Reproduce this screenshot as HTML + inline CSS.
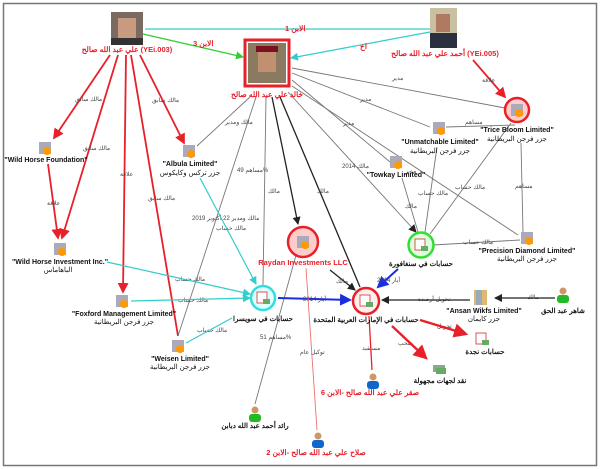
<!DOCTYPE html>
<html><head><meta charset="utf-8"><style>
html,body{margin:0;padding:0;background:#fff;}
svg{display:block;}
text{font-family:"Liberation Sans","Noto Sans CJK SC",sans-serif;}
.l{font-size:6px;fill:#444;}
.b{font-size:7px;font-weight:bold;fill:#111;}
.r{font-size:7.5px;font-weight:bold;fill:#e8202a;}
.ar{font-size:7px;fill:#111;}
</style></head><body>
<svg width="600" height="469" viewBox="0 0 600 469" xmlns="http://www.w3.org/2000/svg">
<defs>
<marker id="ar" markerWidth="6" markerHeight="6" refX="5" refY="3" orient="auto" markerUnits="strokeWidth"><path d="M0,0L6,3L0,6z" fill="#e8202a"/></marker>
<marker id="ak" markerWidth="8" markerHeight="8" refX="7" refY="4" orient="auto" markerUnits="userSpaceOnUse"><path d="M0,0L8,4L0,8z" fill="#222"/></marker>
<marker id="ab" markerWidth="6" markerHeight="6" refX="5" refY="3" orient="auto" markerUnits="strokeWidth"><path d="M0,0L6,3L0,6z" fill="#1a2ee0"/></marker>
<marker id="ac" markerWidth="8" markerHeight="8" refX="7" refY="4" orient="auto" markerUnits="userSpaceOnUse"><path d="M0,0L8,4L0,8z" fill="#3cc"/></marker>
<marker id="ag" markerWidth="8" markerHeight="8" refX="7" refY="4" orient="auto" markerUnits="userSpaceOnUse"><path d="M0,0L8,4L0,8z" fill="#3c3"/></marker>
</defs>
<rect x="3.5" y="3.5" width="593" height="462" fill="#fff" stroke="#777" stroke-width="1.5"/>

<!-- cyan top lines -->
<line x1="145" y1="29" x2="430" y2="29" stroke="#3cc" stroke-width="1.2"/>
<line x1="430" y1="32" x2="291" y2="58" stroke="#3cc" stroke-width="1.2" marker-end="url(#ac)"/>
<line x1="143" y1="34" x2="243" y2="57" stroke="#3c3" stroke-width="1.2" marker-end="url(#ag)"/>
<text x="285" y="31" class="r" font-size="6">الابن 1</text>
<text x="193" y="46" class="r" font-size="6">الابن 3</text>
<text x="360" y="49" class="r" font-size="6">اخ</text>

<!-- red from Ali -->
<g stroke="#e8202a" stroke-width="1.8" fill="none">
<line x1="110" y1="55" x2="54" y2="138" marker-end="url(#ar)"/>
<line x1="118" y1="55" x2="62" y2="238" marker-end="url(#ar)"/>
<line x1="126" y1="55" x2="123" y2="292" marker-end="url(#ar)"/>
<line x1="131" y1="55" x2="178" y2="336"/>
<line x1="140" y1="55" x2="184" y2="143" marker-end="url(#ar)"/>
<line x1="48" y1="164" x2="58" y2="238" marker-end="url(#ar)"/>
<line x1="473" y1="60" x2="505" y2="97" marker-end="url(#ar)"/>
</g>
<g class="l">
<text x="75" y="101">مالك سابق</text>
<text x="83" y="150">مالك سابق</text>
<text x="120" y="176">علاقة</text>
<text x="148" y="200">مالك سابق</text>
<text x="152" y="102">مالك سابق</text>
<text x="47" y="205">علاقة</text>
<text x="482" y="82">علاقة</text>
</g>

<!-- gray lines from Khaled -->
<g stroke="#777" stroke-width="0.9" fill="none">
<line x1="250" y1="97" x2="197" y2="146"/>
<line x1="256" y1="97" x2="178" y2="336"/>
<line x1="266" y1="97" x2="263" y2="285"/>
<line x1="292" y1="68" x2="505" y2="108"/>
<line x1="292" y1="73" x2="430" y2="127"/>
<line x1="292" y1="80" x2="390" y2="162"/>
<line x1="292" y1="86" x2="518" y2="235"/>
<line x1="288" y1="92" x2="416" y2="232" marker-end="url(#ak)"/>
<line x1="511" y1="123" x2="430" y2="234"/>
<line x1="437" y1="147" x2="425" y2="232"/>
<line x1="402" y1="178" x2="418" y2="232"/>
<line x1="515" y1="125" x2="446" y2="127"/>
<line x1="521" y1="143" x2="523" y2="232"/>
<line x1="433" y1="245" x2="520" y2="240"/>
<line x1="296" y1="255" x2="255" y2="404"/>
</g>
<g stroke="#222" stroke-width="1.3" fill="none">
<line x1="272" y1="97" x2="298" y2="224" marker-end="url(#ak)"/>
<line x1="280" y1="97" x2="360" y2="287"/>
<line x1="330" y1="270" x2="355" y2="290" marker-end="url(#ak)"/>
<line x1="470" y1="300" x2="382" y2="300" marker-end="url(#ak)"/>
<line x1="555" y1="298" x2="495" y2="298" marker-end="url(#ak)"/>
</g>
<g class="l">
<text x="225" y="124">مالك ومدير</text>
<text x="268" y="193">مالك</text>
<text x="237" y="172">مساهم 49%</text>
<text x="317" y="193">مالك</text>
<text x="392" y="80">مدير</text>
<text x="360" y="101">مدير</text>
<text x="343" y="125">مدير</text>
<text x="342" y="168">مالك 2014</text>
<text x="405" y="173">مدير</text>
<text x="465" y="124">مساهم</text>
<text x="418" y="195">مالك حساب</text>
<text x="455" y="189">مالك حساب</text>
<text x="405" y="208">مالك</text>
<text x="515" y="188">مساهم</text>
<text x="463" y="244">مالك حساب</text>
<text x="192" y="220">مالك ومدير 22 أكتوبر 2019</text>
<text x="216" y="230">مالك حساب</text>
<text x="336" y="283">مالك</text>
<text x="260" y="339">مساهم 51%</text>
<text x="418" y="301">تحويل أرصدة</text>
<text x="527" y="299">مالك</text>
<text x="175" y="281">مالك حساب</text>
<text x="178" y="302">مالك حساب</text>
<text x="197" y="332">مالك حساب</text>
<text x="300" y="354">توكيل عام</text>
<text x="362" y="350">مستفيد</text>
<text x="398" y="345">سحب</text>
<text x="437" y="328">تحويل</text>
</g>

<!-- cyan lines to Switzerland -->
<g stroke="#3cc" stroke-width="1.2" fill="none">
<line x1="107" y1="262" x2="250" y2="294" marker-end="url(#ac)"/>
<line x1="131" y1="301" x2="250" y2="298" marker-end="url(#ac)"/>
<line x1="186" y1="343" x2="232" y2="318"/>
<line x1="200" y1="178" x2="256" y2="284" marker-end="url(#ac)"/>
</g>

<!-- blue -->
<g stroke="#1a2ee0" stroke-width="2" fill="none">
<line x1="278" y1="298" x2="350" y2="300" marker-end="url(#ab)"/>
<line x1="398" y1="269" x2="378" y2="287" marker-end="url(#ab)"/>
</g>
<text x="303" y="301" class="l">أيار 2014</text>
<text x="377" y="282" class="l">أيار 2014</text>

<!-- red from UAE -->
<g stroke="#e8202a" stroke-width="2.4" fill="none">
<line x1="420" y1="320" x2="466" y2="334" marker-end="url(#ar)"/>
<line x1="392" y1="326" x2="426" y2="358" marker-end="url(#ar)"/>
</g>
<line x1="369" y1="316" x2="372" y2="370" stroke="#e8202a" stroke-width="1.3"/>
<line x1="306" y1="268" x2="317" y2="430" stroke="#f07070" stroke-width="0.9"/>

<!-- photos -->
<rect x="111" y="12" width="32" height="33" fill="#7a6a60"/>
<rect x="118" y="18" width="18" height="22" fill="#c89a80"/>
<rect x="111" y="38" width="32" height="7" fill="#333"/>
<text x="127" y="52" class="r" text-anchor="middle">علي عبد الله صالح (YEi.003)</text>

<rect x="245" y="40" width="44" height="46" fill="#fff" stroke="#e8202a" stroke-width="3"/>
<rect x="248" y="43" width="38" height="40" fill="#8a7a60"/>
<rect x="258" y="50" width="18" height="22" fill="#c09070"/>
<rect x="256" y="46" width="22" height="6" fill="#7a1020"/>
<text x="267" y="97" class="r" text-anchor="middle">خالد علي عبد الله صالح</text>

<rect x="430" y="8" width="27" height="40" fill="#c8c0a0"/>
<rect x="436" y="14" width="14" height="18" fill="#b07a60"/>
<rect x="430" y="33" width="27" height="15" fill="#2a3040"/>
<text x="445" y="56" class="r" text-anchor="middle">أحمد علي عبد الله صالح (YEi.005)</text>

<!-- circles -->
<circle cx="517" cy="110" r="12" fill="#fcc" stroke="#e8202a" stroke-width="2.5"/>
<circle cx="303" cy="242" r="15" fill="#fcc" stroke="#e8202a" stroke-width="2.5"/>
<circle cx="263" cy="298" r="12" fill="#dff" stroke="#3dd" stroke-width="2.5"/>
<circle cx="421" cy="245" r="12.5" fill="#dfd" stroke="#3d3" stroke-width="2.5"/>
<circle cx="366" cy="301" r="13" fill="#fee" stroke="#e8202a" stroke-width="2.5"/>

<!-- building icons -->
<g>
<rect x="511" y="104" width="12" height="12" fill="#aab" /><circle cx="519" cy="113" r="4" fill="#f90"/>
<rect x="297" y="236" width="12" height="12" fill="#aab" /><circle cx="305" cy="245" r="4" fill="#f90"/>
<rect x="433" y="122" width="12" height="12" fill="#aab" /><circle cx="441" cy="131" r="4" fill="#f90"/>
<rect x="390" y="156" width="12" height="12" fill="#aab" /><circle cx="398" cy="165" r="4" fill="#f90"/>
<rect x="39" y="142" width="12" height="12" fill="#aab" /><circle cx="47" cy="151" r="4" fill="#f90"/>
<rect x="183" y="145" width="12" height="12" fill="#aab" /><circle cx="191" cy="154" r="4" fill="#f90"/>
<rect x="54" y="243" width="12" height="12" fill="#aab" /><circle cx="62" cy="252" r="4" fill="#f90"/>
<rect x="116" y="295" width="12" height="12" fill="#aab" /><circle cx="124" cy="304" r="4" fill="#f90"/>
<rect x="172" y="340" width="12" height="12" fill="#aab" /><circle cx="180" cy="349" r="4" fill="#f90"/>
<rect x="521" y="232" width="12" height="12" fill="#aab" /><circle cx="529" cy="241" r="4" fill="#f90"/>
<rect x="474" y="290" width="13" height="15" fill="#dcb870" /><rect x="476" y="290" width="6" height="15" fill="#9ab"/>
<rect x="257" y="292" width="10" height="11" fill="#fff" stroke="#d55"/><rect x="263" y="299" width="7" height="5" fill="#6a6"/>
<rect x="415" y="239" width="10" height="11" fill="#fff" stroke="#d55"/><rect x="421" y="246" width="7" height="5" fill="#6a6"/>
<rect x="360" y="295" width="10" height="11" fill="#fff" stroke="#d55"/><rect x="366" y="302" width="7" height="5" fill="#6a6"/>
<rect x="476" y="333" width="10" height="11" fill="#fff" stroke="#d55"/><rect x="482" y="340" width="7" height="5" fill="#6a6"/>
<rect x="433" y="365" width="12" height="7" fill="#8a8" /><rect x="436" y="368" width="10" height="6" fill="#6a6"/>
</g>
<!-- persons -->
<g>
<circle cx="563" cy="291" r="3.5" fill="#c96"/><rect x="557" y="295" width="12" height="8" rx="3" fill="#2b2"/>
<circle cx="255" cy="410" r="3.5" fill="#c96"/><rect x="249" y="414" width="12" height="8" rx="3" fill="#2b2"/>
<circle cx="373" cy="377" r="3.5" fill="#c96"/><rect x="367" y="381" width="12" height="8" rx="3" fill="#16c"/>
<circle cx="318" cy="436" r="3.5" fill="#c96"/><rect x="312" y="440" width="12" height="8" rx="3" fill="#16c"/>
</g>

<!-- labels -->
<g class="b" text-anchor="middle">
<text x="517" y="132">"Trice Bloom Limited"</text>
<text x="440" y="144">"Unmatchable Limited"</text>
<text x="396" y="177">"Towkay Limited"</text>
<text x="46" y="162">"Wild Horse Foundation"</text>
<text x="190" y="166">"Albula Limited"</text>
<text x="60" y="264">"Wild Horse Investment Inc."</text>
<text x="124" y="316">"Foxford Management Limited"</text>
<text x="180" y="361">"Weisen Limited"</text>
<text x="527" y="253">"Precision Diamond Limited"</text>
<text x="484" y="313">"Ansan Wikfs Limited"</text>
</g>
<g class="ar" text-anchor="middle">
<text x="517" y="141">جزر فرجن البريطانية</text>
<text x="440" y="153">جزر فرجن البريطانية</text>
<text x="190" y="175">جزر تركس وكايكوس</text>
<text x="58" y="272">الباهاماس</text>
<text x="124" y="324">جزر فرجن البريطانية</text>
<text x="180" y="369">جزر فرجن البريطانية</text>
<text x="527" y="261">جزر فرجن البريطانية</text>
<text x="484" y="321">جزر كايمان</text>
<text x="263" y="321" font-weight="bold">حسابات في سويسرا</text>
<text x="421" y="266" font-weight="bold">حسابات في سنغافورة</text>
<text x="366" y="322" font-weight="bold">حسابات في الإمارات العربية المتحدة</text>
<text x="563" y="313" font-weight="bold">شاهر عبد الحق</text>
<text x="485" y="354" font-weight="bold">حسابات نجدة</text>
<text x="440" y="383" font-weight="bold">نقد لجهات مجهولة</text>
<text x="255" y="428" font-weight="bold">رائد أحمد عبد الله دبابن</text>
</g>
<text x="303" y="265" class="r" text-anchor="middle">Raydan Investments LLC</text>
<text x="370" y="395" class="r" text-anchor="middle" font-size="6.5">صقر علي عبد الله صالح -الابن 6</text>
<text x="316" y="455" class="r" text-anchor="middle" font-size="6.5">صلاح علي عبد الله صالح -الابن 2</text>
</svg>
</body></html>
